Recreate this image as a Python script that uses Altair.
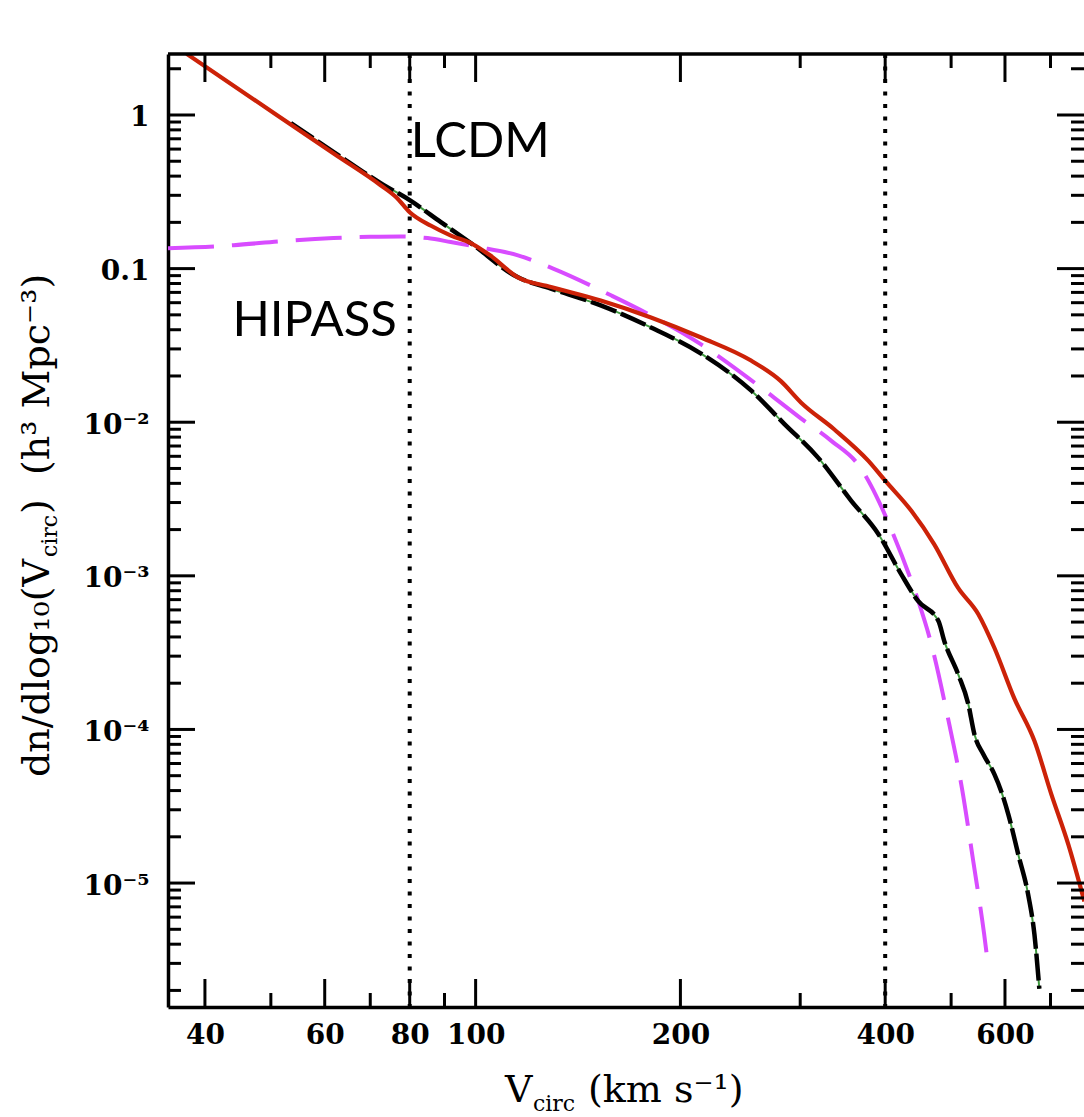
import math
import altair as alt
import pandas as pd

# ---------------- data ----------------
# red solid curve
red_v = [37.6, 51.0, 62.0, 72.5, 76.5, 80.0, 86.0, 92.0, 98.5, 105.0, 115.4, 129.0,
         152.7, 181.0, 214.5, 254.0, 281.0, 301.0, 336.5, 377.6, 400.0, 437.0, 472.0,
         512.0, 548.0, 579.0, 619.0, 663.0, 702.0, 743.6, 785.0]
red_n = [2.5, 1.0, 0.557, 0.349, 0.29, 0.233, 0.19, 0.164, 0.146, 0.122, 0.0877, 0.076,
         0.062, 0.0481, 0.0356, 0.0252, 0.0185, 0.0134, 0.0090, 0.00562, 0.00416, 0.00265,
         0.00161, 0.000834, 0.000564, 0.000339, 0.00016, 8.4e-5, 3.78e-5, 1.78e-5, 7.6e-6]

# black dash-dot curve
blk_v = [53.5, 62.0, 72.5, 80.0, 89.0, 98.5, 115.4, 129.0, 152.7, 181.0, 214.5, 254.0,
         284.0, 318.7, 356.6, 390.6, 422.0, 447.0, 479.0, 488.6, 512.0, 530.0, 541.0,
         557.6, 579.0, 592.5, 606.8, 627.7, 649.0, 663.0, 674.0]
blk_n = [0.887, 0.57, 0.36, 0.279, 0.2, 0.146, 0.0877, 0.074, 0.0576, 0.0414, 0.028, 0.0161,
         0.0098, 0.00588, 0.00308, 0.00188, 0.00103, 0.000686, 0.000508, 0.000376, 0.000229,
         0.000146, 9.3e-5, 6.9e-5, 5.1e-5, 3.95e-5, 2.8e-5, 1.53e-5, 8.4e-6, 4.6e-6, 2.05e-6]

# magenta long-dashed curve (HIPASS)
hip_v = [35.3, 44.1, 52.0, 61.8, 70.0, 77.6, 85.0, 91.9, 100.0, 115.4, 130.0, 158.1,
         181.0, 214.5, 245.5, 274.6, 301.0, 333.0, 368.7, 388.0, 408.0, 437.0, 447.4,
         467.5, 495.0, 519.0, 539.0, 559.0, 567.0]
hip_n = [0.1356, 0.142, 0.151, 0.158, 0.161, 0.162, 0.158, 0.149, 0.139, 0.122, 0.1, 0.067,
         0.0496, 0.0321, 0.02106, 0.01447, 0.01056, 0.00759, 0.00498, 0.00332, 0.00202,
         0.000927, 0.000686, 0.00036, 0.000117, 4.07e-5, 1.38e-5, 4.69e-6, 2.85e-6]

# vertical dotted reference lines
vlines = [80, 400]

# annotations
ann_labels = ["LCDM", "HIPASS"]
ann_v = [80.3, 43.9]
ann_n = [0.533, 0.0364]

# axis ticks / labels
x_major = [40, 60, 80, 100, 200, 400, 600]
x_minor = [50, 70, 90, 300, 500, 700]
y_major = [1e-5, 1e-4, 1e-3, 1e-2, 0.1, 1]
y_major_labels = ["10⁻⁵", "10⁻⁴", "10⁻³", "10⁻²", "0.1", "1"]
y_minor_mult = [2, 3, 4, 5, 6, 7, 8, 9]
y_minor_exp = [-6, -5, -4, -3, -2, -1, 0]

# ---------------- layout ----------------
W, H = 916, 953
LEFT, TOP = 168, 54
XDOM = [35.3, 784.0]
YDOM = [1.56e-6, 2.495]

y_minor = [m * 10.0 ** e for e in y_minor_exp for m in y_minor_mult
           if YDOM[0] <= m * 10.0 ** e <= YDOM[1]]

xs = alt.Scale(type="log", domain=XDOM, nice=False)
ys = alt.Scale(type="log", domain=YDOM, nice=False)

def build_expr():
    s = "''"
    for v, lab in zip(y_major, y_major_labels):
        s = f"(abs(log(datum.value)/LN10 - ({math.log10(v):.3f})) < 0.05 ? '{lab}' : {s})"
    return s

x_axis = alt.Axis(values=x_major, format="d", title=None, ticks=False, tickSize=0,
                  grid=False, labelFont="DejaVu Serif", labelFontSize=28,
                  labelFontWeight="bold", labelColor="black", labelPadding=14,
                  labelFlush=False, domainColor="black", domainWidth=3.5)
y_axis = alt.Axis(values=y_major, labelExpr=build_expr(), title=None, ticks=False,
                  tickSize=0, grid=False, labelFont="DejaVu Serif", labelFontSize=28,
                  labelFontWeight="bold", labelColor="black", labelPadding=19,
                  labelBaseline="middle", labelOffset=3, labelFlush=False,
                  domainColor="black", domainWidth=3.5)

X = alt.X("v:Q", scale=xs, axis=x_axis)
Y = alt.Y("n:Q", scale=ys, axis=y_axis)

df_red = pd.DataFrame({"v": red_v, "n": red_n})
df_blk = pd.DataFrame({"v": blk_v, "n": blk_n})
df_hip = pd.DataFrame({"v": hip_v, "n": hip_n})

hip = alt.Chart(df_hip).mark_line(color="#d84cff", strokeWidth=4, strokeDash=[46, 18],
                                  clip=True, interpolate="monotone").encode(x=X, y=Y)
green = alt.Chart(df_blk).mark_line(color="#3f9a3f", strokeWidth=2, clip=True,
                                    interpolate="monotone").encode(x=X, y=Y)
black = alt.Chart(df_blk).mark_line(color="black", strokeWidth=4.5, strokeDash=[27, 5],
                                    clip=True, interpolate="monotone").encode(x=X, y=Y)
red = alt.Chart(df_red).mark_line(color="#cc2208", strokeWidth=4.2, clip=True,
                                  interpolate="monotone").encode(x=X, y=Y)

dotted = alt.Chart(pd.DataFrame({"v": vlines})).mark_rule(
    color="black", strokeWidth=4, strokeDash=[4, 8.5]).encode(
    x=X, y=alt.value(0), y2=alt.value(H))

dfxM = pd.DataFrame({"v": x_major})
dfxm = pd.DataFrame({"v": x_minor})
dfyM = pd.DataFrame({"n": y_major})
dfym = pd.DataFrame({"n": y_minor})

tick = dict(color="black", strokeWidth=3)
ticks = [
    alt.Chart(dfxM).mark_rule(**tick).encode(x=X, y=alt.value(H - 28), y2=alt.value(H)),
    alt.Chart(dfxM).mark_rule(**tick).encode(x=X, y=alt.value(0), y2=alt.value(28)),
    alt.Chart(dfxm).mark_rule(**tick).encode(x=X, y=alt.value(H - 14), y2=alt.value(H)),
    alt.Chart(dfxm).mark_rule(**tick).encode(x=X, y=alt.value(0), y2=alt.value(14)),
    alt.Chart(dfyM).mark_rule(**tick).encode(y=Y, x=alt.value(0), x2=alt.value(27)),
    alt.Chart(dfyM).mark_rule(**tick).encode(y=Y, x=alt.value(W - 27), x2=alt.value(W)),
    alt.Chart(dfym).mark_rule(**tick).encode(y=Y, x=alt.value(0), x2=alt.value(13)),
    alt.Chart(dfym).mark_rule(**tick).encode(y=Y, x=alt.value(W - 13), x2=alt.value(W)),
]

one = pd.DataFrame({"k": [0]})
top_frame = alt.Chart(one).mark_rule(color="black", strokeWidth=3.5).encode(
    x=alt.value(0), x2=alt.value(W), y=alt.value(0))

ann = alt.Chart(pd.DataFrame({"v": ann_v, "n": ann_n, "t": ann_labels})).mark_text(
    align="left", baseline="alphabetic", font="Lato", fontSize=49, color="black").encode(
    x=X, y=Y, text="t:N")

def txt(s, x, y, size, angle=0):
    kw = dict(text=s, font="DejaVu Serif", fontSize=size, color="black",
              align="left", baseline="alphabetic")
    if angle:
        kw["angle"] = angle
    return alt.Chart(one).mark_text(**kw).encode(
        x=alt.value(x - LEFT), y=alt.value(y - TOP))

NB = "\u00a0"
titles = [
    # x title
    txt("V", 505, 1102, 38),
    txt("circ", 533, 1111, 22),
    txt("(km" + NB + "s⁻¹)", 588, 1102, 38),
    # y title (rotated)
    txt("dn/dlog₁₀(V", 49, 777, 38, 270),
    txt("circ", 57, 557, 22, 270),
    txt(")" + NB + NB + "(h³" + NB + "Mpc⁻³)", 49, 514, 38, 270),
]

chart = alt.layer(hip, green, black, red, dotted, *ticks, top_frame, ann, *titles).properties(
    width=W, height=H,
    autosize=alt.AutoSizeParams(type="none"),
    padding={"left": LEFT, "top": TOP, "right": 0, "bottom": 1117 - TOP - H},
    background="white",
).configure_view(stroke=None)

chart.save("out.html", embed_options={"renderer": "svg", "actions": False})
